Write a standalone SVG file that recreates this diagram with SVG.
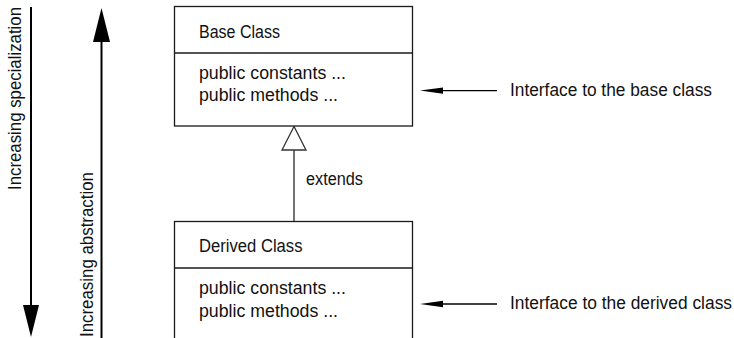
<svg xmlns="http://www.w3.org/2000/svg" width="734" height="338" viewBox="0 0 734 338">
<style>
  text { font-family: "Liberation Sans", Arial, sans-serif; font-size: 17.5px; fill: #111; }
  .rot { font-size: 17.5px; }
  .box { fill: #fff; stroke: #1a1a1a; stroke-width: 1.3; }
  .div { stroke: #1a1a1a; stroke-width: 1.3; }
  .thick { stroke: #000; stroke-width: 2; fill: none; }
  .thin { stroke: #000; stroke-width: 1.3; fill: none; }
  .head { fill: #000; stroke: none; }
  .ext { stroke: #444; stroke-width: 1.5; fill: none; }
  .tri { fill: #fff; stroke: #333; stroke-width: 1.3; }
</style>
<rect width="734" height="338" fill="#fff"/>
<g id="connectors">
  <line class="ext" x1="294" y1="150" x2="294" y2="221.5"/>
  <polygon class="tri" points="294,126.5 282,150 306,150"/>
  <line class="thin" x1="440" y1="90.6" x2="497" y2="90.6"/>
  <polygon class="head" points="420,90.6 443,87.4 443,93.8"/>
  <line class="thin" x1="440" y1="304" x2="497" y2="304"/>
  <polygon class="head" points="420,304 443,300.8 443,307.2"/>
  <line class="thick" x1="31" y1="7" x2="31" y2="307"/>
  <polygon class="head" points="23,305 39,305 31,337"/>
  <line class="thick" x1="101.5" y1="338" x2="101.5" y2="40"/>
  <polygon class="head" points="93,42 110,42 101.5,8"/>
</g>
<g id="base-class">
  <rect class="box" x="174.5" y="6.5" width="238" height="119.5"/>
  <line class="div" x1="174.5" y1="53" x2="412.5" y2="53"/>
  <text x="199" y="37.5" textLength="81" lengthAdjust="spacingAndGlyphs">Base Class</text>
  <text x="199" y="78.5" textLength="147" lengthAdjust="spacingAndGlyphs">public constants ...</text>
  <text x="199" y="100.5" textLength="139" lengthAdjust="spacingAndGlyphs">public methods ...</text>
</g>
<g id="derived-class">
  <rect class="box" x="174.5" y="221.5" width="238" height="130"/>
  <line class="div" x1="174.5" y1="268" x2="412.5" y2="268"/>
  <text x="199" y="252" textLength="103.5" lengthAdjust="spacingAndGlyphs">Derived Class</text>
  <text x="199" y="294" textLength="147" lengthAdjust="spacingAndGlyphs">public constants ...</text>
  <text x="199" y="316.5" textLength="139" lengthAdjust="spacingAndGlyphs">public methods ...</text>
</g>
<g id="extends-label">
  <text x="306" y="185" textLength="57" lengthAdjust="spacingAndGlyphs">extends</text>
</g>
<g id="base-interface">
  <text x="510" y="95.7" textLength="202" lengthAdjust="spacingAndGlyphs">Interface to the base class</text>
</g>
<g id="derived-interface">
  <text x="510" y="309" textLength="222" lengthAdjust="spacingAndGlyphs">Interface to the derived class</text>
</g>
<g id="specialization">
  <text class="rot" transform="translate(20.5,7) rotate(-90)" text-anchor="end" textLength="183" lengthAdjust="spacingAndGlyphs">Increasing specialization</text>
</g>
<g id="abstraction">
  <text class="rot" transform="translate(93,172) rotate(-90)" text-anchor="end" textLength="165" lengthAdjust="spacingAndGlyphs">Increasing abstraction</text>
</g>
</svg>
